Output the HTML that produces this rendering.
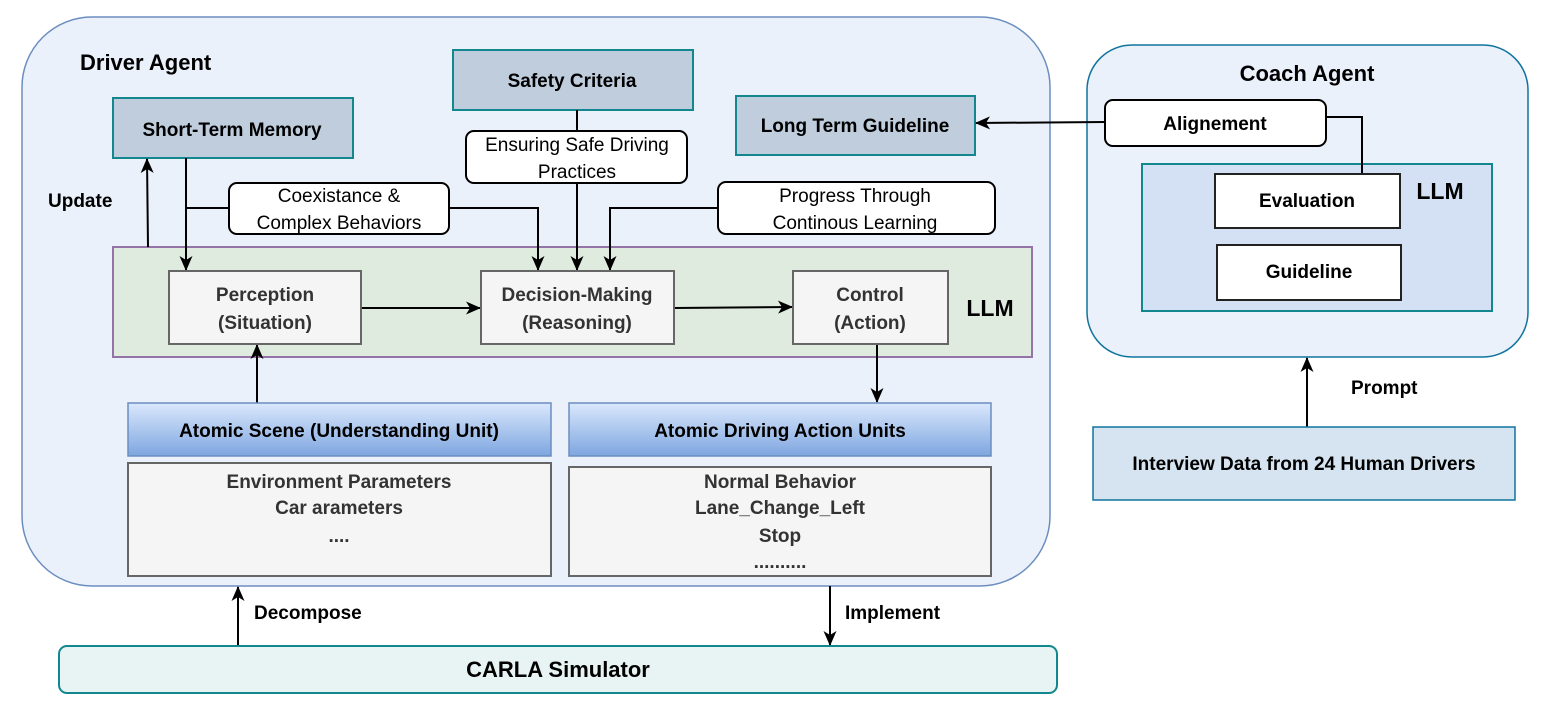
<!DOCTYPE html>
<html><head><meta charset="utf-8"><style>
html,body{margin:0;padding:0;background:#fff;}
svg{display:block;font-family:"Liberation Sans",Arial,sans-serif;}
.b{font-weight:bold;}
</style></head><body>
<svg width="1545" height="708" viewBox="0 0 1545 708" xmlns="http://www.w3.org/2000/svg">
<defs>
<marker id="a" markerWidth="16" markerHeight="16" refX="14" refY="8" orient="auto" markerUnits="userSpaceOnUse">
<path d="M0,1.5 L15,8 L0,14.5 L4,8 Z" fill="#000"/></marker>
<linearGradient id="g" x1="0" y1="0" x2="0" y2="1"><stop offset="0" stop-color="#dae8fc"/><stop offset="1" stop-color="#7ea6e0"/></linearGradient>
</defs>
<rect x="22" y="17" width="1028" height="569" rx="70" fill="#ebf1fb" stroke="#6c8ebf" stroke-width="1.5"/>
<text x="80" y="70" class="b" font-size="22">Driver Agent</text>
<rect x="1087" y="45" width="441" height="312" rx="45" fill="#ebf1fb" stroke="#10739e" stroke-width="1.5"/>
<text x="1307" y="81" class="b" font-size="22" text-anchor="middle">Coach Agent</text>

<rect x="113" y="98" width="240" height="60" fill="#bfcddd" stroke="#12888e" stroke-width="2"/>
<text x="232" y="136" class="b" font-size="19" text-anchor="middle">Short-Term Memory</text>
<rect x="453" y="50" width="240" height="60" fill="#bfcddd" stroke="#12888e" stroke-width="2"/>
<text x="572" y="87" class="b" font-size="19" text-anchor="middle">Safety Criteria</text>
<rect x="736" y="96" width="239" height="59" fill="#bfcddd" stroke="#12888e" stroke-width="2"/>
<text x="855" y="132" class="b" font-size="19" text-anchor="middle">Long Term Guideline</text>

<rect x="113" y="247" width="919" height="110" fill="#e0ebe0" stroke="#9673a6" stroke-width="2"/>
<text x="990" y="316" class="b" font-size="23" text-anchor="middle">LLM</text>

<g stroke="#000" stroke-width="2" fill="none">
<line x1="148" y1="247" x2="147" y2="159" marker-end="url(#a)"/>
<line x1="186" y1="158" x2="186" y2="270" marker-end="url(#a)"/>
<polyline points="186,208 538,208 538,270" marker-end="url(#a)"/>
<line x1="577" y1="110" x2="577" y2="270" marker-end="url(#a)"/>
<polyline points="718,208 610,208 610,270" marker-end="url(#a)"/>
<line x1="361" y1="308" x2="480" y2="308" marker-end="url(#a)"/>
<line x1="674" y1="308" x2="792" y2="307" marker-end="url(#a)"/>
<line x1="877" y1="344" x2="877" y2="402" marker-end="url(#a)"/>
<line x1="257" y1="403" x2="257" y2="345" marker-end="url(#a)"/>
<line x1="238" y1="646" x2="238" y2="587" marker-end="url(#a)"/>
<line x1="830" y1="586" x2="830" y2="645" marker-end="url(#a)"/>
<line x1="1307" y1="427" x2="1307" y2="358" marker-end="url(#a)"/>
<line x1="1105" y1="122" x2="976" y2="123" marker-end="url(#a)"/>
<polyline points="1326,117 1362,117 1362,174"/>
</g>

<rect x="466" y="131" width="221" height="52" rx="8" fill="#fff" stroke="#000" stroke-width="2"/>
<text x="577" y="151" font-size="19" text-anchor="middle">Ensuring Safe Driving</text>
<text x="577" y="178" font-size="19" text-anchor="middle">Practices</text>
<rect x="229" y="183" width="220" height="51" rx="8" fill="#fff" stroke="#000" stroke-width="2"/>
<text x="339" y="202" font-size="19" text-anchor="middle">Coexistance &amp;</text>
<text x="339" y="229" font-size="19" text-anchor="middle">Complex Behaviors</text>
<rect x="718" y="182" width="277" height="52" rx="8" fill="#fff" stroke="#000" stroke-width="2"/>
<text x="855" y="202" font-size="19" text-anchor="middle">Progress Through</text>
<text x="855" y="229" font-size="19" text-anchor="middle">Continous Learning</text>

<g fill="#f5f5f5" stroke="#666" stroke-width="2">
<rect x="169" y="271" width="192" height="73"/>
<rect x="481" y="271" width="193" height="73"/>
<rect x="793" y="271" width="155" height="73"/>
</g>
<g class="b" font-size="19" fill="#333" text-anchor="middle">
<text x="265" y="301">Perception</text><text x="265" y="329">(Situation)</text>
<text x="577" y="301">Decision-Making</text><text x="577" y="329">(Reasoning)</text>
<text x="870" y="301">Control</text><text x="870" y="329">(Action)</text>
</g>

<rect x="128" y="403" width="423" height="53" fill="url(#g)" stroke="#6c8ebf" stroke-width="1.5"/>
<text x="339" y="437" class="b" font-size="19" text-anchor="middle">Atomic Scene (Understanding Unit)</text>
<rect x="569" y="403" width="422" height="53" fill="url(#g)" stroke="#6c8ebf" stroke-width="1.5"/>
<text x="780" y="437" class="b" font-size="19" text-anchor="middle">Atomic Driving Action Units</text>
<rect x="128" y="463" width="423" height="113" fill="#f5f5f5" stroke="#666" stroke-width="2"/>
<rect x="569" y="467" width="422" height="109" fill="#f5f5f5" stroke="#666" stroke-width="2"/>
<g class="b" font-size="19" fill="#333" text-anchor="middle">
<text x="339" y="488">Environment Parameters</text>
<text x="339" y="514">Car arameters</text>
<text x="339" y="542">....</text>
<text x="780" y="488">Normal Behavior</text>
<text x="780" y="514">Lane_Change_Left</text>
<text x="780" y="542">Stop</text>
<text x="780" y="568">..........</text>
</g>

<rect x="59" y="646" width="998" height="47" rx="8" fill="#e8f4f3" stroke="#12888e" stroke-width="2"/>
<text x="558" y="677" class="b" font-size="22" text-anchor="middle">CARLA Simulator</text>
<text x="254" y="619" class="b" font-size="19">Decompose</text>
<text x="845" y="619" class="b" font-size="19">Implement</text>
<text x="48" y="207" class="b" font-size="19">Update</text>
<text x="1351" y="394" class="b" font-size="19">Prompt</text>

<rect x="1105" y="100" width="221" height="46" rx="8" fill="#fff" stroke="#000" stroke-width="2"/>
<text x="1215" y="130" class="b" font-size="19" text-anchor="middle">Alignement</text>
<rect x="1142" y="164" width="350" height="147" fill="#d4e1f5" stroke="#12888e" stroke-width="2"/>
<polyline points="1362,146 1362,174" stroke="#000" stroke-width="2"/>
<rect x="1215" y="174" width="185" height="54" fill="#fff" stroke="#222" stroke-width="2"/>
<text x="1307" y="207" class="b" font-size="19" text-anchor="middle">Evaluation</text>
<rect x="1217" y="245" width="184" height="55" fill="#fff" stroke="#222" stroke-width="2"/>
<text x="1309" y="278" class="b" font-size="19" text-anchor="middle">Guideline</text>
<text x="1440" y="199" class="b" font-size="23" text-anchor="middle">LLM</text>

<rect x="1093" y="427" width="422" height="73" fill="#d5e4f0" stroke="#10739e" stroke-width="1.5"/>
<text x="1304" y="470" class="b" font-size="19" text-anchor="middle">Interview Data from 24 Human Drivers</text>
</svg>
</body></html>
